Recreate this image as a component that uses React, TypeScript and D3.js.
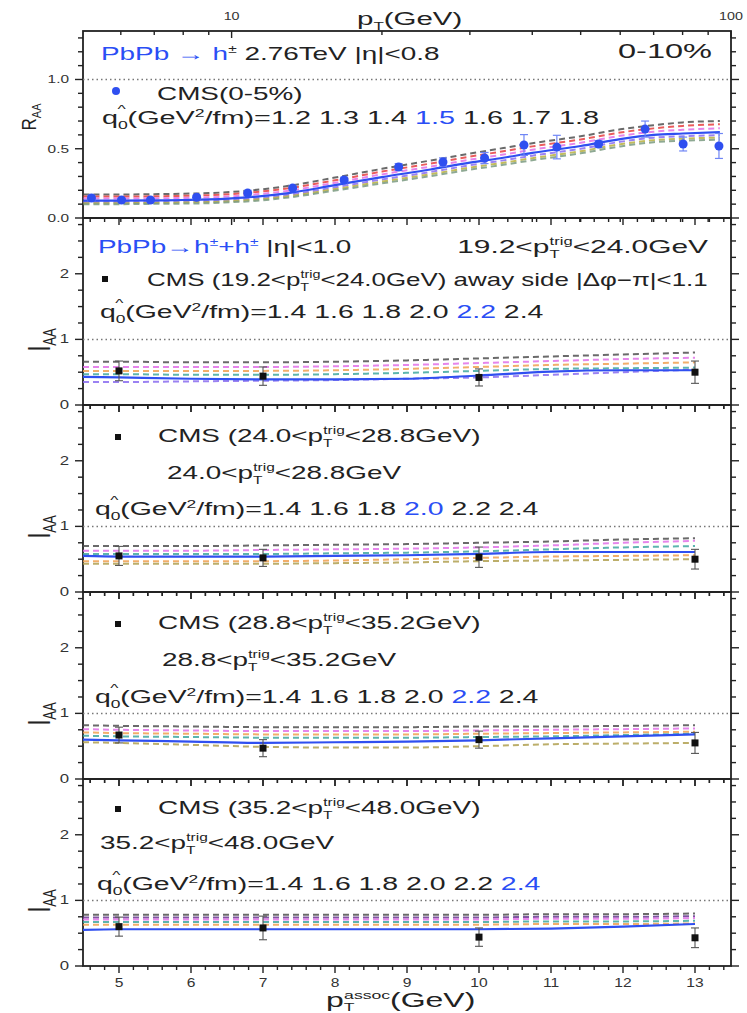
import React from "react";
import * as d3 from "d3";

const W = 747;
const H = 1013;
const X_LEFT = 83;
const X_RIGHT = 731;
const PANEL_TOPS = [31, 218, 405, 592, 779];
const PANEL_H = 187;
const FONT = "'Liberation Sans', Arial, Helvetica, sans-serif";
const SX = 1.55;
const BLUE = "#2f4ff0";
const BLUE_TXT = "#2a4ef5";
const INK = "#222";

// ---------- top panel: R_AA vs pT ----------
const raaPt = [5.24, 6.02, 6.88, 8.51, 10.77, 13.25, 16.8, 21.6, 26.5, 32.1, 38.5, 44.8, 54.3, 67.3, 80.2, 94.6];
const raaVal = [0.144, 0.13, 0.13, 0.15, 0.18, 0.216, 0.274, 0.368, 0.404, 0.433, 0.527, 0.512, 0.534, 0.642, 0.534, 0.52];
const raaErr = [0.02, 0.015, 0.015, 0.015, 0.02, 0.02, 0.02, 0.025, 0.03, 0.04, 0.075, 0.085, 0.025, 0.058, 0.05, 0.09];

const raaCurvePt = [5.05, 6, 7, 8, 9, 10, 11, 13, 16, 20, 25, 30, 35, 40, 50, 60, 70, 80, 95];
const raaQ12 = [0.17, 0.17, 0.172, 0.175, 0.18, 0.188, 0.2, 0.232, 0.29, 0.355, 0.415, 0.465, 0.505, 0.54, 0.59, 0.64, 0.67, 0.69, 0.7];
const raaQ13 = [0.155, 0.155, 0.157, 0.16, 0.165, 0.173, 0.185, 0.215, 0.27, 0.335, 0.393, 0.443, 0.482, 0.517, 0.567, 0.617, 0.647, 0.665, 0.677];
const raaQ14 = [0.14, 0.14, 0.142, 0.145, 0.149, 0.157, 0.168, 0.197, 0.252, 0.315, 0.371, 0.421, 0.458, 0.493, 0.543, 0.593, 0.623, 0.637, 0.648];
const raaQ15 = [0.125, 0.125, 0.127, 0.13, 0.134, 0.142, 0.152, 0.18, 0.235, 0.295, 0.35, 0.4, 0.435, 0.47, 0.52, 0.57, 0.6, 0.61, 0.62];
const raaQ16 = [0.115, 0.115, 0.117, 0.12, 0.123, 0.131, 0.14, 0.167, 0.22, 0.278, 0.332, 0.381, 0.416, 0.45, 0.5, 0.55, 0.58, 0.59, 0.598];
const raaQ17 = [0.107, 0.107, 0.109, 0.112, 0.115, 0.122, 0.131, 0.157, 0.207, 0.263, 0.316, 0.364, 0.399, 0.432, 0.482, 0.532, 0.562, 0.573, 0.58];
const raaQ18 = [0.1, 0.1, 0.102, 0.104, 0.107, 0.114, 0.122, 0.148, 0.196, 0.25, 0.302, 0.349, 0.384, 0.417, 0.467, 0.517, 0.547, 0.558, 0.565];
const raaQhat = ["1.2", "1.3", "1.4", "1.5", "1.6", "1.7", "1.8"];

// ---------- I_AA panels ----------
const iaaPt = [5, 7, 10, 13];
const iaaCurvePt = [4.5, 5, 6, 7, 8, 9, 10, 11, 12, 13];
const iaaQhat = ["1.4", "1.6", "1.8", "2.0", "2.2", "2.4"];

// panel 2: 19.2 < pT trig < 24.0
const p2Val = [0.52, 0.44, 0.42, 0.5];
const p2Err = [0.15, 0.14, 0.13, 0.17];
const p2Gray = [0.66, 0.66, 0.65, 0.65, 0.66, 0.68, 0.71, 0.74, 0.77, 0.8];
const p2Magenta = [0.58, 0.58, 0.58, 0.58, 0.59, 0.61, 0.64, 0.67, 0.7, 0.72];
const p2Orange = [0.52, 0.52, 0.52, 0.52, 0.53, 0.55, 0.58, 0.61, 0.63, 0.65];
const p2Teal = [0.47, 0.47, 0.46, 0.46, 0.47, 0.49, 0.52, 0.55, 0.56, 0.57];
const p2Blue = [0.43, 0.42, 0.4, 0.39, 0.39, 0.4, 0.45, 0.51, 0.53, 0.53];
const p2Violet = [0.35, 0.35, 0.36, 0.37, 0.38, 0.4, 0.42, 0.46, 0.5, 0.54];

// panel 3: 24.0 < pT trig < 28.8
const p3Val = [0.55, 0.52, 0.53, 0.5];
const p3Err = [0.145, 0.13, 0.155, 0.15];
const p3Gray = [0.7, 0.7, 0.7, 0.71, 0.72, 0.73, 0.75, 0.77, 0.8, 0.82];
const p3Magenta = [0.63, 0.63, 0.63, 0.64, 0.65, 0.66, 0.68, 0.71, 0.75, 0.78];
const p3Teal = [0.58, 0.58, 0.58, 0.58, 0.59, 0.6, 0.62, 0.65, 0.68, 0.7];
const p3Blue = [0.55, 0.54, 0.54, 0.54, 0.55, 0.56, 0.58, 0.61, 0.61, 0.61];
const p3Orange = [0.47, 0.47, 0.47, 0.47, 0.48, 0.5, 0.52, 0.54, 0.55, 0.56];
const p3Olive = [0.43, 0.43, 0.43, 0.43, 0.44, 0.45, 0.47, 0.48, 0.49, 0.5];

// panel 4: 28.8 < pT trig < 35.2
const p4Val = [0.67, 0.47, 0.6, 0.55];
const p4Err = [0.12, 0.13, 0.13, 0.16];
const p4Gray = [0.82, 0.81, 0.8, 0.79, 0.79, 0.79, 0.8, 0.8, 0.81, 0.82];
const p4Magenta = [0.76, 0.75, 0.74, 0.73, 0.73, 0.73, 0.74, 0.75, 0.76, 0.77];
const p4Orange = [0.71, 0.7, 0.69, 0.68, 0.68, 0.68, 0.69, 0.7, 0.71, 0.72];
const p4Teal = [0.66, 0.65, 0.64, 0.63, 0.63, 0.63, 0.64, 0.65, 0.67, 0.69];
const p4Blue = [0.6, 0.59, 0.57, 0.55, 0.56, 0.57, 0.59, 0.62, 0.65, 0.68];
const p4Olive = [0.56, 0.55, 0.52, 0.49, 0.48, 0.48, 0.5, 0.53, 0.54, 0.55];

// panel 5: 35.2 < pT trig < 48.0
const p5Val = [0.6, 0.58, 0.44, 0.43];
const p5Err = [0.145, 0.18, 0.14, 0.15];
const p5Gray = [0.78, 0.78, 0.78, 0.78, 0.78, 0.78, 0.78, 0.79, 0.79, 0.8];
const p5Purple = [0.74, 0.74, 0.74, 0.74, 0.74, 0.74, 0.74, 0.75, 0.75, 0.76];
const p5Magenta = [0.71, 0.71, 0.71, 0.71, 0.71, 0.71, 0.71, 0.72, 0.72, 0.73];
const p5Teal = [0.67, 0.67, 0.67, 0.67, 0.67, 0.67, 0.67, 0.68, 0.68, 0.69];
const p5Orange = [0.63, 0.63, 0.63, 0.63, 0.63, 0.63, 0.63, 0.64, 0.64, 0.65];
const p5Blue = [0.55, 0.56, 0.56, 0.56, 0.56, 0.56, 0.56, 0.57, 0.6, 0.64];

const C_GRAY = "#505050";
const C_RED = "#e84040";
const C_MAGENTA = "#e070e8";
const C_ORANGE = "#f0a050";
const C_TEAL = "#40a8a0";
const C_VIOLET = "#8a6cf0";
const C_OLIVE = "#b0a050";
const C_PURPLE = "#6a3a90";
const C_YELLOW = "#b8b040";
const C_GREYGREEN = "#7a9a80";

type Curve = { v: number[]; c: string; solid?: boolean };

const raaCurves: Curve[] = [
  { v: raaQ12, c: C_GRAY },
  { v: raaQ13, c: C_RED },
  { v: raaQ14, c: C_MAGENTA },
  { v: raaQ16, c: C_VIOLET },
  { v: raaQ17, c: C_YELLOW },
  { v: raaQ18, c: C_GREYGREEN },
  { v: raaQ15, c: BLUE, solid: true },
];

const iaaPanels = [
  {
    val: p2Val, err: p2Err,
    curves: [
      { v: p2Gray, c: C_GRAY }, { v: p2Magenta, c: C_MAGENTA }, { v: p2Orange, c: C_ORANGE },
      { v: p2Teal, c: C_TEAL }, { v: p2Violet, c: C_VIOLET }, { v: p2Blue, c: BLUE, solid: true },
    ] as Curve[],
  },
  {
    val: p3Val, err: p3Err,
    curves: [
      { v: p3Gray, c: C_GRAY }, { v: p3Magenta, c: C_MAGENTA }, { v: p3Teal, c: C_TEAL },
      { v: p3Orange, c: C_ORANGE }, { v: p3Olive, c: C_OLIVE }, { v: p3Blue, c: BLUE, solid: true },
    ] as Curve[],
  },
  {
    val: p4Val, err: p4Err,
    curves: [
      { v: p4Gray, c: C_GRAY }, { v: p4Magenta, c: C_MAGENTA }, { v: p4Orange, c: C_ORANGE },
      { v: p4Teal, c: C_TEAL }, { v: p4Olive, c: C_OLIVE }, { v: p4Blue, c: BLUE, solid: true },
    ] as Curve[],
  },
  {
    val: p5Val, err: p5Err,
    curves: [
      { v: p5Gray, c: C_GRAY }, { v: p5Purple, c: C_PURPLE }, { v: p5Magenta, c: C_MAGENTA },
      { v: p5Teal, c: C_TEAL }, { v: p5Orange, c: C_ORANGE }, { v: p5Blue, c: BLUE, solid: true },
    ] as Curve[],
  },
];

const logTicks = [6, 7, 8, 9, 10, 20, 30, 40, 50, 60, 70, 80, 90, 100];
const logMajor = [10, 100];
const linMajor = [5, 6, 7, 8, 9, 10, 11, 12, 13];

function Txt(props: any) {
  const { x, y, size = 18, sx = SX, anchor = "start", fill = INK, rotate, children } = props;
  const tr = `translate(${x},${y}) scale(${sx},1)` + (rotate ? ` rotate(${rotate})` : "");
  return (
    <text transform={tr} fontSize={size} textAnchor={anchor} fill={fill} fontFamily={FONT} style={{ whiteSpace: "pre" }}>
      {children}
    </text>
  );
}

function trig(pre: string, post: string) {
  return (
    <>
      <tspan>{pre + "p"}</tspan>
      <tspan dy={5} fontSize={10}>T</tspan>
      <tspan dx={-6} dy={-13} fontSize={10}>trig</tspan>
      <tspan dy={8}>{post}</tspan>
    </>
  );
}

function QLine({ x, y, values, hi, sx }: { x: number; y: number; values: string[]; hi: number; sx?: number }) {
  return (
    <Txt x={x} y={y} sx={sx ?? 1.58}>
      <tspan>q</tspan>
      <tspan dy={5} fontSize={11}>0</tspan>
      <tspan dx={-6.5} dy={-16} fontSize={11}>^</tspan>
      <tspan dx={1.2} dy={11}>(GeV</tspan>
      <tspan dy={-7} fontSize={11}>2</tspan>
      <tspan dy={7}>/fm)=</tspan>
      {values.map((v, i) => (
        <tspan key={i} fill={i === hi ? BLUE_TXT : INK}>{(i ? " " : "") + v}</tspan>
      ))}
    </Txt>
  );
}

export default function App() {
  const xTop = d3.scaleLog().domain([5.04, 100]).range([X_LEFT, X_RIGHT]);
  const xAss = d3.scaleLinear().domain([4.5, 13.5]).range([X_LEFT, X_RIGHT]);
  const yRaa = d3.scaleLinear().domain([0, 1.35]).range([PANEL_TOPS[0] + PANEL_H, PANEL_TOPS[0]]);
  const yIaa = (k: number) =>
    d3.scaleLinear().domain([0, 2.85]).range([PANEL_TOPS[k] + PANEL_H, PANEL_TOPS[k]]);

  const linMinor = d3.range(4.6, 13.45, 0.2).filter((v) => Math.abs(v - Math.round(v)) > 0.01);
  const raaMajorY = [0, 0.5, 1.0];
  const raaMinorY = d3.range(0.1, 1.34, 0.1).filter((v) => Math.abs(v * 2 - Math.round(v * 2)) > 0.01);
  const iaaMajorY = [0, 1, 2];
  const iaaMinorY = d3.range(0.25, 2.8, 0.25).filter((v) => Math.abs(v - Math.round(v)) > 0.01);

  const els: React.ReactNode[] = [];

  // ---------- frames and ticks ----------
  PANEL_TOPS.forEach((top, k) => {
    const bot = top + PANEL_H;
    const isLog = k === 0;
    const xs = isLog ? xTop : xAss;
    const tickVals = isLog ? logTicks : [...linMajor, ...linMinor];
    const isMaj = (v: number) => (isLog ? logMajor.includes(v) : linMajor.includes(v));
    const ys = isLog ? yRaa : yIaa(k);
    const yMaj = isLog ? raaMajorY : iaaMajorY;
    const yMin = isLog ? raaMinorY : iaaMinorY;
    els.push(
      <rect key={`fr${k}`} x={X_LEFT} y={top} width={X_RIGHT - X_LEFT} height={PANEL_H} fill="none" stroke={INK} strokeWidth={1.8} />
    );
    els.push(
      <line key={`one${k}`} x1={X_LEFT} x2={X_RIGHT} y1={ys(1)} y2={ys(1)} stroke="#777" strokeWidth={1.5} strokeDasharray="1.5,3" />
    );
    tickVals.forEach((v, i) => {
      const x = xs(v);
      const len = isMaj(v) ? 7 : 4;
      els.push(<line key={`tt${k}-${i}`} x1={x} x2={x} y1={top} y2={top + len} stroke={INK} strokeWidth={1.4} />);
      els.push(<line key={`tb${k}-${i}`} x1={x} x2={x} y1={bot} y2={bot + len} stroke={INK} strokeWidth={1.4} />);
    });
    [...yMaj, ...yMin].forEach((v, i) => {
      const y = ys(v);
      const len = yMaj.includes(v) ? 8 : 5;
      els.push(<line key={`yl${k}-${i}`} x1={X_LEFT - len} x2={X_LEFT} y1={y} y2={y} stroke={INK} strokeWidth={1.4} />);
      els.push(<line key={`yr${k}-${i}`} x1={X_RIGHT} x2={X_RIGHT + len} y1={y} y2={y} stroke={INK} strokeWidth={1.4} />);
    });
    yMaj.forEach((v, i) => {
      els.push(
        <Txt key={`yt${k}-${i}`} x={69} y={ys(v) + 4} size={isLog ? 11 : 12} sx={1.4} anchor="end" fill="#333">
          {isLog ? v.toFixed(1) : String(v)}
        </Txt>
      );
    });
  });

  // ---------- top panel curves ----------
  const raaLine = d3
    .line<number>()
    .x((_, i) => xTop(raaCurvePt[i]))
    .y((d) => yRaa(d))
    .curve(d3.curveMonotoneX);
  raaCurves.forEach((c, i) => {
    els.push(
      <path key={`rc${i}`} d={raaLine(c.v) || ""} fill="none" stroke={c.c} strokeWidth={c.solid ? 2.2 : 2}
        strokeDasharray={c.solid ? undefined : "6,4"} opacity={c.solid ? 1 : 0.85} />
    );
  });
  raaPt.forEach((p, i) => {
    const x = xTop(p);
    const y0 = yRaa(raaVal[i] - raaErr[i]);
    const y1 = yRaa(raaVal[i] + raaErr[i]);
    els.push(
      <g key={`rp${i}`} stroke="#6f86f5" strokeWidth={1.2}>
        <line x1={x} x2={x} y1={y0} y2={y1} />
        <line x1={x - 4} x2={x + 4} y1={y0} y2={y0} />
        <line x1={x - 4} x2={x + 4} y1={y1} y2={y1} />
      </g>
    );
    els.push(<circle key={`rm${i}`} cx={x} cy={yRaa(raaVal[i])} r={4.5} fill={BLUE} />);
  });

  // ---------- I_AA panels ----------
  iaaPanels.forEach((pn, j) => {
    const k = j + 1;
    const ys = yIaa(k);
    const ln = d3
      .line<number>()
      .x((_, i) => xAss(iaaCurvePt[i]))
      .y((d) => ys(d))
      .curve(d3.curveMonotoneX);
    pn.curves.forEach((c, i) => {
      els.push(
        <path key={`ic${k}-${i}`} d={ln(c.v) || ""} fill="none" stroke={c.c} strokeWidth={c.solid ? 2.2 : 2}
          strokeDasharray={c.solid ? undefined : "6,4"} opacity={c.solid ? 1 : 0.85} />
      );
    });
    iaaPt.forEach((p, i) => {
      const x = xAss(p);
      const y0 = ys(pn.val[i] - pn.err[i]);
      const y1 = ys(pn.val[i] + pn.err[i]);
      els.push(
        <g key={`ip${k}-${i}`} stroke="#555" strokeWidth={1.1}>
          <line x1={x} x2={x} y1={y0} y2={y1} />
          <line x1={x - 4} x2={x + 4} y1={y0} y2={y0} />
          <line x1={x - 4} x2={x + 4} y1={y1} y2={y1} />
        </g>
      );
      els.push(<rect key={`im${k}-${i}`} x={x - 3.5} y={ys(pn.val[i]) - 3.5} width={7} height={7} fill="#111" />);
    });
    els.push(
      <Txt key={`iaa${k}`} x={50} y={PANEL_TOPS[k] + 122} size={21} sx={1.45} anchor="middle" rotate={-90}>
        <tspan>I</tspan>
        <tspan dy={4} fontSize={13}>AA</tspan>
      </Txt>
    );
  });

  // bottom x labels
  linMajor.forEach((v) => {
    els.push(
      <Txt key={`xl${v}`} x={xAss(v)} y={987} size={13} sx={1.2} anchor="middle" fill="#333">
        {String(v)}
      </Txt>
    );
  });
  // top log labels
  logMajor.forEach((v) => {
    els.push(
      <Txt key={`xt${v}`} x={xTop(v)} y={20} size={11} sx={1.3} anchor="middle" fill="#333">
        {String(v)}
      </Txt>
    );
  });

  return (
    <svg width={W} height={H} viewBox={`0 0 ${W} ${H}`} style={{ position: "absolute", left: 0, top: 0, background: "#fff" }}>
      <rect x={0} y={0} width={W} height={H} fill="#fff" />
      {els}

      {/* axis titles */}
      <Txt x={357} y={25} size={19} sx={1.55}>
        <tspan>p</tspan>
        <tspan dy={5} fontSize={11}>T</tspan>
        <tspan dy={-5}>(GeV)</tspan>
      </Txt>
      <Txt x={326} y={1007} size={20} sx={1.6}>
        <tspan>p</tspan>
        <tspan dy={4} fontSize={11}>T</tspan>
        <tspan dx={-6.5} dy={-12} fontSize={11}>assoc</tspan>
        <tspan dy={8}>(GeV)</tspan>
      </Txt>
      <Txt x={36} y={117} size={17} sx={1.15} anchor="middle" rotate={-90}>
        <tspan>R</tspan>
        <tspan dy={4} fontSize={11}>AA</tspan>
      </Txt>

      {/* top panel texts */}
      <Txt x={101} y={60}>
        <tspan fill={BLUE_TXT}>PbPb → h</tspan>
        <tspan dy={-7} fontSize={10}>±</tspan>
        <tspan dy={7}> 2.76TeV |η|&lt;0.8</tspan>
      </Txt>
      <Txt x={712} y={58} size={21} sx={1.55} anchor="end">0-10%</Txt>
      <circle cx={116} cy={91} r={4} fill={BLUE} />
      <Txt x={157} y={100}>CMS(0-5%)</Txt>
      <QLine x={102} y={124} values={raaQhat} hi={3} sx={1.6} />

      {/* panel 2 */}
      <Txt x={98} y={253}>
        <tspan fill={BLUE_TXT}>PbPb→h</tspan>
        <tspan fill={BLUE_TXT} dy={-7} fontSize={10}>±</tspan>
        <tspan fill={BLUE_TXT} dy={7}>+h</tspan>
        <tspan fill={BLUE_TXT} dy={-7} fontSize={10}>±</tspan>
        <tspan dy={7}> |η|&lt;1.0</tspan>
      </Txt>
      <Txt x={708} y={253} anchor="end" sx={1.66}>{trig("19.2<", "<24.0GeV")}</Txt>
      <rect x={102} y={276} width={6} height={6} fill="#111" />
      <Txt x={147} y={286} sx={1.44}>{trig("CMS (19.2<", "<24.0GeV) away side |Δφ−π|<1.1")}</Txt>
      <QLine x={100} y={318} values={iaaQhat} hi={4} />

      {/* panel 3 */}
      <rect x={115} y={434} width={6} height={6} fill="#111" />
      <Txt x={158} y={442}>{trig("CMS (24.0<", "<28.8GeV)")}</Txt>
      <Txt x={167} y={479}>{trig("24.0<", "<28.8GeV")}</Txt>
      <QLine x={95} y={515} values={iaaQhat} hi={3} />

      {/* panel 4 */}
      <rect x={115} y={621} width={6} height={6} fill="#111" />
      <Txt x={158} y={629}>{trig("CMS (28.8<", "<35.2GeV)")}</Txt>
      <Txt x={162} y={666}>{trig("28.8<", "<35.2GeV")}</Txt>
      <QLine x={95} y={703} values={iaaQhat} hi={4} />

      {/* panel 5 */}
      <rect x={115} y={806} width={6} height={6} fill="#111" />
      <Txt x={158} y={814}>{trig("CMS (35.2<", "<48.0GeV)")}</Txt>
      <Txt x={100} y={849}>{trig("35.2<", "<48.0GeV")}</Txt>
      <QLine x={97} y={890} values={iaaQhat} hi={5} />
    </svg>
  );
}
